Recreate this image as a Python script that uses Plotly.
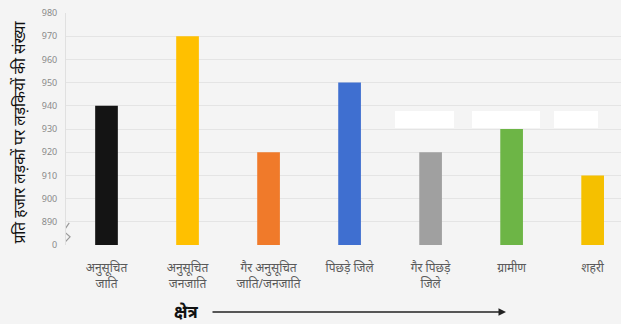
import plotly.graph_objects as go

categories = ["अनुसूचित<br>जाति", "अनुसूचित<br>जनजाति", "गैर अनुसूचित<br>जाति/जनजाति",
              "पिछड़े जिले", "गैर पिछड़े<br>जिले", "ग्रामीण", "शहरी"]
values = [940, 970, 920, 950, 920, 930, 910]
colors = ["#141414", "#FFC000", "#F07A2A", "#3F6FD0", "#A0A0A0", "#6DB546", "#F5C000"]
ytickvals = [880, 890, 900, 910, 920, 930, 940, 950, 960, 970, 980]
yticktext = ["0", "890", "900", "910", "920", "930", "940", "950", "960", "970", "980"]
y_title = "प्रति हजार लड़कों पर लड़कियों की संख्या"
x_title = "क्षेत्र"

BASE = 880
fig = go.Figure(go.Bar(
    x=list(range(len(categories))),
    y=[v - BASE for v in values],
    base=BASE,
    marker=dict(color=colors, line=dict(width=0)),
))

BG = "#f4f4f4"
fig.update_layout(
    width=621, height=324,
    margin=dict(l=66, r=0, t=13, b=79),
    paper_bgcolor=BG, plot_bgcolor=BG,
    bargap=0.72,
    showlegend=False,
    font=dict(family="Noto Sans, sans-serif"),
)
fig.update_xaxes(
    range=[-0.5, 6.35],
    tickvals=list(range(len(categories))), ticktext=categories,
    tickfont=dict(size=12, color="#5a5a5a"),
    ticks="outside", ticklen=12, tickcolor="rgba(0,0,0,0)",
    showgrid=False, zeroline=False, showline=False,
)
fig.update_yaxes(
    range=[880, 980],
    tickvals=ytickvals, ticktext=yticktext,
    tickfont=dict(size=9, color="#8a8a8a"),
    ticks="outside", ticklen=6, tickcolor="rgba(0,0,0,0)",
    showgrid=True, gridcolor="#e4e4e4", gridwidth=1,
    zeroline=False, showline=True, linecolor="#e0e0e0",
)

# y-axis title
fig.add_annotation(text=y_title, xref="paper", yref="paper", x=0, y=0.485,
                   xshift=-60, textangle=-90, showarrow=False,
                   font=dict(size=15.5, color="#111111"))
# x-axis title with arrow
fig.add_annotation(text="<b>" + x_title + "</b>", xref="paper", yref="paper",
                   x=(172 - 66) / 555, y=-(311 - 245) / 232,
                   xanchor="left", yanchor="middle",
                   showarrow=False,
                   font=dict(size=17, color="#111111"))
fig.add_annotation(x=(506 - 66) / 555, y=-(312 - 245) / 232,
                   ax=-(506 - 211), ay=0,
                   xref="paper", yref="paper", axref="pixel", ayref="pixel",
                   showarrow=True, arrowhead=2, arrowsize=1, arrowwidth=1.5,
                   arrowcolor="#222222", text="")

# axis break mark
fig.add_shape(type="path", xref="x", yref="y",
              path="M -0.46,889.5 L -0.53,886 L -0.45,883.5 L -0.52,881",
              line=dict(color="#9a9a9a", width=1.2))

# white patches
for x0, x1 in [(395, 454), (472, 540), (554, 598)]:
    fig.add_shape(type="rect", xref="paper", yref="paper",
                  x0=(x0 - 66) / 555, x1=(x1 - 66) / 555,
                  y0=(245 - 128) / 232, y1=(245 - 111) / 232,
                  fillcolor="white", line=dict(width=0), layer="above")

fig.write_html("out.html")
